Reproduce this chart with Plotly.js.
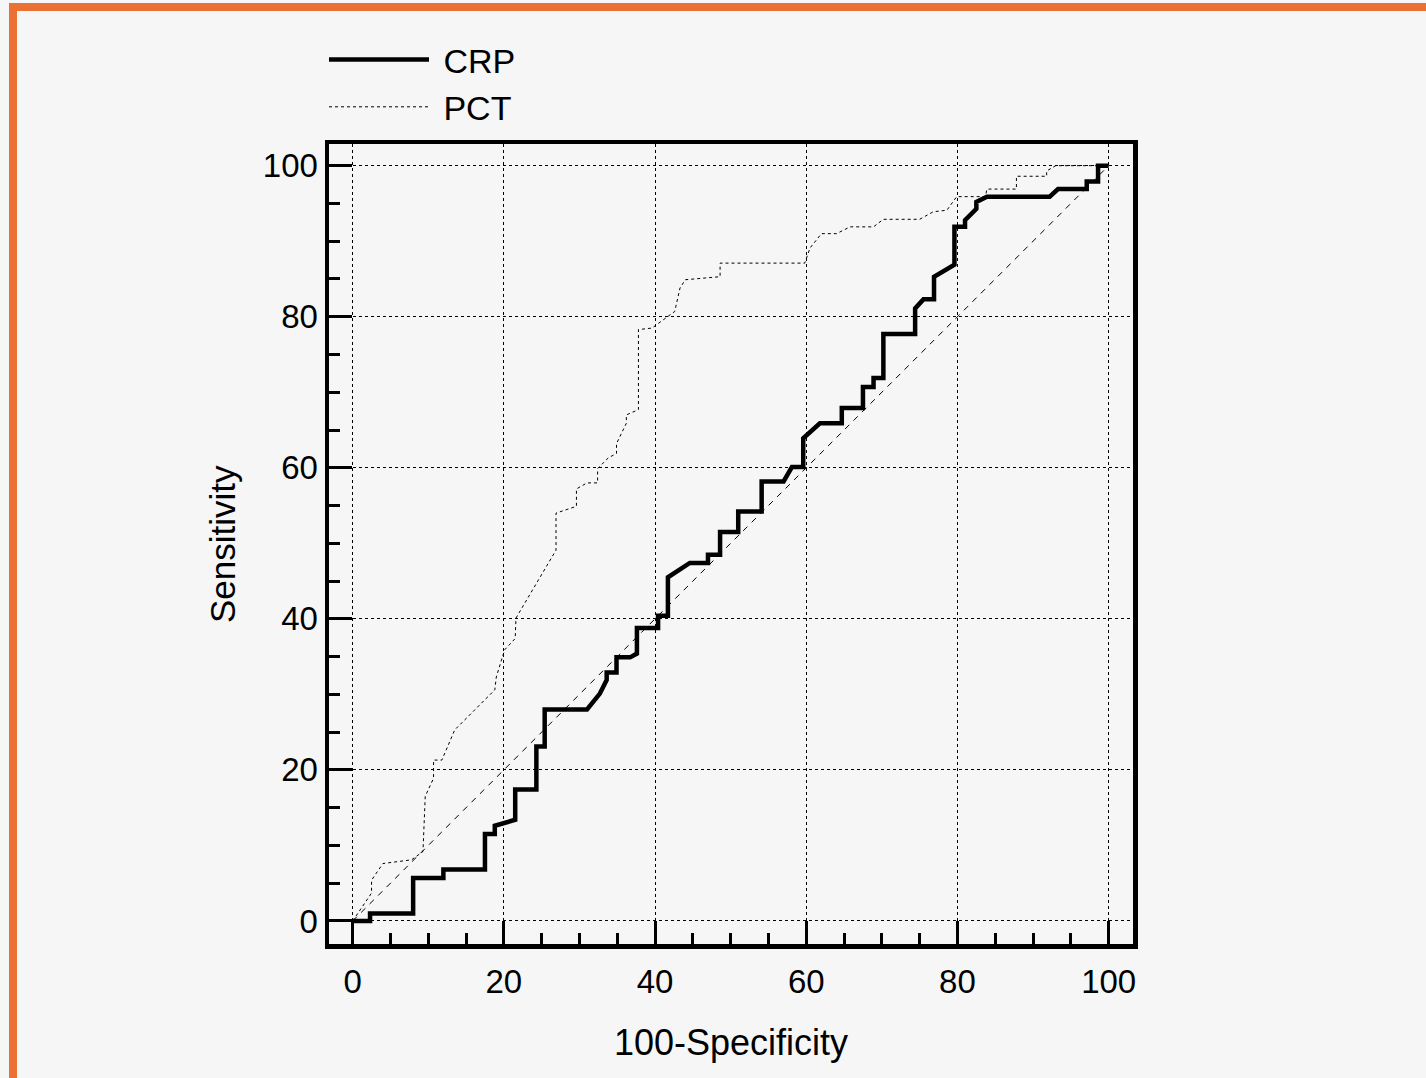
<!DOCTYPE html>
<html>
<head>
<meta charset="utf-8">
<script src="https://cdn.plot.ly/plotly-3.0.1.min.js"></script>
<style>
  html, body { margin: 0; padding: 0; background: #f6f6f6; }
  #frame { position: absolute; left: 9px; top: 3px; right: 0; bottom: 0;
           border-top: 8px solid #eb7033; border-left: 8px solid #eb7033; }
  #chart { position: absolute; left: 0; top: 0; width: 1426px; height: 1078px; }
</style>
</head>
<body>
<div id="frame"></div>
<div id="chart"></div>
<script>
// ROC curve for CRP (thick solid)
const crpX = [0, 2.3, 2.3, 8.0, 8.0, 12.0, 12.0, 17.5, 17.5, 18.8, 18.8, 21.5, 21.5, 24.3, 24.3, 25.4, 25.4, 31.0, 32.7, 33.6,
              33.6, 34.9, 34.9, 36.7, 37.6, 37.6, 40.4, 40.4, 41.7, 41.7, 44.6, 47.0, 47.0, 48.6, 48.6, 51.0, 51.0, 54.1, 54.1, 57.0,
              58.1, 59.6, 59.6, 61.8, 64.7, 64.7, 67.5, 67.5, 68.9, 68.9, 70.2, 70.2, 74.4, 74.4, 75.5, 76.9, 76.9, 79.6, 79.6, 81.0,
              81.0, 82.5, 82.5, 83.9, 92.2, 93.3, 97.1, 97.1, 98.6, 98.6, 100];
const crpY = [0, 0, 1.0, 1.0, 5.7, 5.7, 6.8, 6.8, 11.5, 11.5, 12.6, 13.4, 17.4, 17.4, 23.1, 23.1, 28.0, 28.0, 30.1, 31.9,
              32.9, 32.9, 34.9, 34.9, 35.4, 38.8, 38.8, 40.4, 40.4, 45.5, 47.4, 47.4, 48.5, 48.5, 51.5, 51.5, 54.2, 54.2, 58.2, 58.2,
              60.1, 60.1, 63.9, 65.9, 65.9, 67.9, 67.9, 70.7, 70.7, 71.9, 71.9, 77.7, 77.7, 81.1, 82.3, 82.3, 85.3, 86.9, 91.9, 91.9,
              92.8, 94.3, 95.2, 95.9, 95.9, 96.9, 96.9, 97.9, 97.9, 100, 100];

// ROC curve for PCT (thin dashed)
const pctX = [0, 0.7, 2.5, 2.5, 4.0, 7.8, 9.3, 9.6, 10.7, 10.7, 11.8, 13.5, 18.8, 19.0, 20.1, 21.5, 21.6, 26.9, 26.9, 29.6,
              29.6, 31.0, 32.4, 32.4, 33.8, 34.9, 34.9, 36.2, 36.2, 37.8, 37.8, 39.6, 41.5, 42.6, 43.3, 44.0, 48.6, 48.6, 59.8, 60.5,
              62.0, 64.0, 65.8, 68.9, 70.2, 75.0, 76.8, 78.6, 79.9, 83.7, 83.9, 87.8, 87.8, 91.8, 91.8, 93.0, 100];
const pctY = [0, 1.0, 3.7, 5.4, 7.6, 8.1, 9.2, 16.5, 18.9, 21.3, 21.3, 25.3, 30.6, 32.3, 35.9, 37.4, 40.1, 49.1, 54.0, 54.9,
              57.2, 58.0, 58.0, 59.9, 61.3, 61.9, 63.2, 65.9, 67.0, 67.7, 78.3, 78.5, 79.9, 80.7, 83.8, 84.9, 85.3, 87.1, 87.1, 89.1,
              91.0, 91.0, 91.9, 91.9, 92.9, 92.9, 93.9, 94.1, 95.9, 95.9, 96.9, 96.9, 98.6, 98.6, 99.3, 100, 100];

// chance diagonal
const diagX = [0, 100];
const diagY = [0, 100];

const seriesNames = ['CRP', 'PCT'];
const axisTickVals = [0, 20, 40, 60, 80, 100];
const xTitle = '100-Specificity';
const yTitle = 'Sensitivity';

const FONT = 'Liberation Sans, Arial, Helvetica, sans-serif';

const traces = [
  { x: diagX, y: diagY, mode: 'lines', showlegend: false, hoverinfo: 'skip',
    line: { color: '#000', width: 1, dash: '6px,6px' } },
  { x: pctX, y: pctY, mode: 'lines', name: '\u00a0' + seriesNames[1],
    line: { color: '#000', width: 1, dash: '3px,3px' } },
  { x: crpX, y: crpY, mode: 'lines', name: '\u00a0' + seriesNames[0],
    line: { color: '#000', width: 4.5 } }
];

const axisCommon = {
  tickmode: 'array', tickvals: axisTickVals, ticktext: axisTickVals.map(String),
  ticks: 'inside', ticklen: 23, tickwidth: 3, tickcolor: '#000',
  showline: true, linewidth: 4.5, linecolor: '#000', mirror: true,
  showgrid: true, gridcolor: '#000', gridwidth: 1, griddash: '3px,3px',
  zeroline: false, automargin: false,
  tickfont: { family: FONT, size: 33, color: '#000' },
  minor: { tickmode: 'linear', tick0: 0, dtick: 5, ticks: 'inside', ticklen: 11, tickwidth: 3, tickcolor: '#000', showgrid: false }
};

const layout = {
  width: 1426, height: 1078,
  paper_bgcolor: 'rgba(0,0,0,0)', plot_bgcolor: 'rgba(0,0,0,0)',
  margin: { l: 329, r: 293, t: 144, b: 134, pad: 0, autoexpand: false },
  font: { family: FONT, color: '#000' },
  showlegend: true,
  legend: {
    xref: 'container', yref: 'container',
    x: 324 / 1426, y: 1 - 31 / 1078, xanchor: 'left', yanchor: 'top',
    bgcolor: 'rgba(0,0,0,0)', borderwidth: 0,
    font: { family: FONT, size: 34, color: '#000' },
    itemwidth: 100, traceorder: 'reversed', tracegroupgap: 0
  },
  xaxis: Object.assign({}, axisCommon, {
    range: [-3.13, 103.22],
    ticklabelstandoff: 5,
    title: { text: xTitle, font: { family: FONT, size: 36, color: '#000' }, standoff: 32 }
  }),
  yaxis: Object.assign({}, axisCommon, {
    range: [-3.05, 102.87]
  }),
  annotations: [{
    text: yTitle, xref: 'paper', yref: 'paper', x: (222 - 329) / 804, y: 0.5,
    xanchor: 'center', yanchor: 'middle', textangle: -90, showarrow: false,
    font: { family: FONT, size: 35, color: '#000' }
  }]
};

Plotly.newPlot('chart', traces, layout, { displayModeBar: false, staticPlot: true });
</script>
</body>
</html>
